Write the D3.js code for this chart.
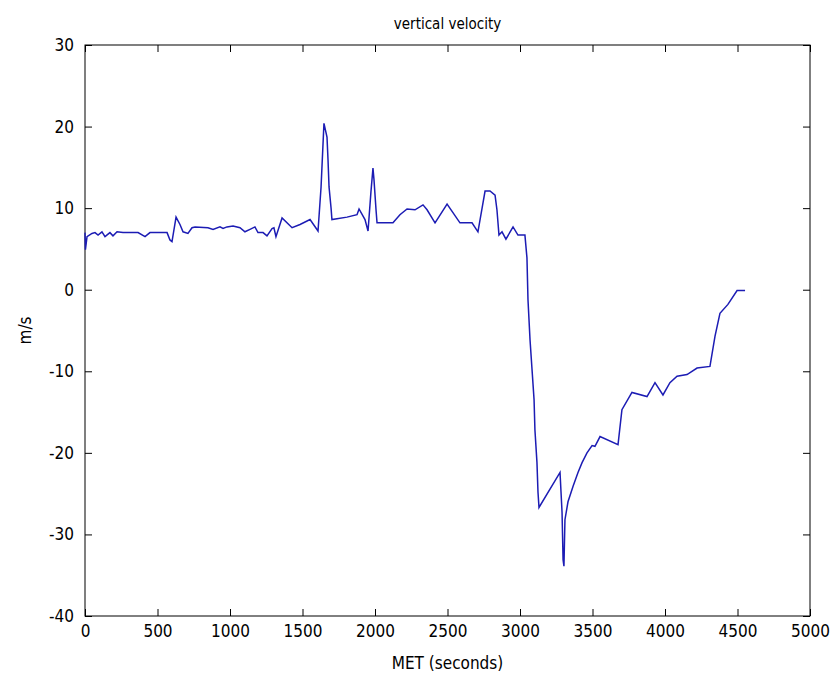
<!DOCTYPE html>
<html>
<head>
<meta charset="utf-8">
<script src="https://cdn.jsdelivr.net/npm/d3@7"></script>
<style>
  body { margin: 0; background: #fff; }
  text { font-family: "DejaVu Sans Condensed", "DejaVu Sans", sans-serif; font-stretch: condensed; fill: #000; }
</style>
</head>
<body>
<div id="chart"></div>
<script>
// MET (seconds)
const met = [0, 3, 14, 48, 69, 90, 117, 138, 172, 193, 221, 262, 310, 366, 414, 448, 566, 586, 600, 628,
  655, 676, 710, 738, 759, 848, 883, 931, 952, 979, 1021, 1069, 1103, 1138, 1172, 1193, 1228, 1255, 1290, 1303,
  1317, 1359, 1428, 1483, 1552, 1607, 1628, 1648, 1669, 1676, 1683, 1697, 1703, 1807, 1876, 1890, 1931, 1952, 1972, 1986,
  1993, 2007, 2014, 2124, 2172, 2221, 2276, 2331, 2359, 2414, 2497, 2586, 2669, 2710, 2759, 2793, 2828, 2841, 2855, 2876,
  2903, 2952, 2986, 3034, 3048, 3055, 3069, 3083, 3097, 3103, 3117, 3124, 3131, 3276, 3290, 3297, 3303, 3310, 3331, 3366,
  3400, 3428, 3462, 3497, 3517, 3552, 3676, 3703, 3772, 3876, 3931, 3986, 4034, 4083, 4152, 4221, 4310, 4345, 4379, 4434,
  4497, 4552];
// vertical velocity (m/s)
const vel = [7.0, 4.9, 6.5, 6.9, 7.0, 6.7, 7.1, 6.5, 7.0, 6.6, 7.1, 7.0, 7.0, 7.0, 6.5, 7.0, 7.0, 6.1, 5.9, 8.9,
  8.0, 7.1, 6.9, 7.6, 7.7, 7.6, 7.4, 7.7, 7.5, 7.7, 7.8, 7.6, 7.1, 7.4, 7.7, 7.0, 7.0, 6.6, 7.5, 7.6,
  6.5, 8.8, 7.6, 8.0, 8.6, 7.2, 12.6, 20.4, 18.7, 15.9, 12.6, 10.0, 8.6, 8.9, 9.2, 9.9, 8.6, 7.2, 12.0, 14.9,
  13.5, 9.8, 8.2, 8.2, 9.2, 9.9, 9.8, 10.4, 9.8, 8.2, 10.5, 8.2, 8.2, 7.1, 12.1, 12.1, 11.6, 9.8, 6.7, 7.1,
  6.2, 7.7, 6.7, 6.7, 3.9, -1.2, -6.1, -9.8, -13.5, -17.2, -21.2, -24.8, -26.7, -22.4, -27.3, -33.1, -33.9, -28.2, -26.0, -24.1,
  -22.4, -21.2, -20.0, -19.1, -19.2, -18.0, -19.0, -14.7, -12.6, -13.1, -11.4, -12.9, -11.4, -10.6, -10.4, -9.6, -9.4, -5.7, -2.9, -1.8,
  -0.1, -0.1];

const xTicks = [0, 500, 1000, 1500, 2000, 2500, 3000, 3500, 4000, 4500, 5000];
const yTicks = [-40, -30, -20, -10, 0, 10, 20, 30];

const data = met.map((t, i) => ({t: t, v: vel[i]}));

const margin = {top: 45, right: 23, bottom: 65, left: 85},
      width = 833 - margin.left - margin.right,
      height = 681 - margin.top - margin.bottom;

const svg = d3.select("#chart")
  .append("svg")
  .attr("width", 833)
  .attr("height", 681)
  .append("g")
  .attr("transform", `translate(${margin.left},${margin.top})`);

const x = d3.scaleLinear().domain([0, 5000]).range([0, width]);
const y = d3.scaleLinear().domain([-40, 30]).range([height, 0]);

// box
svg.append("rect")
  .attr("width", width)
  .attr("height", height)
  .attr("fill", "none")
  .attr("stroke", "#000")
  .attr("stroke-width", 1);

// bottom and left axes, ticks pointing inwards
svg.append("g")
  .attr("class", "axis")
  .attr("transform", `translate(0,${height})`)
  .call(d3.axisBottom(x).tickValues(xTicks).tickSizeInner(-7).tickSizeOuter(0).tickPadding(9)
    .tickFormat(d => String(d)));

svg.append("g")
  .attr("class", "axis")
  .call(d3.axisLeft(y).tickValues(yTicks).tickSizeInner(-7).tickSizeOuter(0).tickPadding(11)
    .tickFormat(d => String(d)));

// top and right axes, ticks only
svg.append("g")
  .attr("class", "axis")
  .call(d3.axisTop(x).tickValues(xTicks).tickSizeInner(-7).tickSizeOuter(0).tickFormat(""));

svg.append("g")
  .attr("class", "axis")
  .attr("transform", `translate(${width},0)`)
  .call(d3.axisRight(y).tickValues(yTicks).tickSizeInner(-7).tickSizeOuter(0).tickFormat(""));

svg.selectAll(".axis path").attr("stroke", "none");
svg.selectAll(".axis line").attr("stroke", "#000");
svg.selectAll(".axis text").style("font-size", "17px").attr("fill", "#000");

// line
const line = d3.line()
  .x(d => x(d.t))
  .y(d => y(d.v));

svg.append("path")
  .datum(data)
  .attr("fill", "none")
  .attr("stroke", "#1c1cb4")
  .attr("stroke-width", 1.5)
  .attr("d", line);

// labels
svg.append("text")
  .attr("x", width / 2)
  .attr("y", -16)
  .attr("text-anchor", "middle")
  .style("font-size", "15px")
  .text("vertical velocity");

svg.append("text")
  .attr("x", width / 2)
  .attr("y", height + 53)
  .attr("text-anchor", "middle")
  .style("font-size", "17px")
  .text("MET (seconds)");

svg.append("text")
  .attr("transform", `translate(-54,${height / 2}) rotate(-90)`)
  .attr("text-anchor", "middle")
  .style("font-size", "17px")
  .text("m/s");
</script>
</body>
</html>
